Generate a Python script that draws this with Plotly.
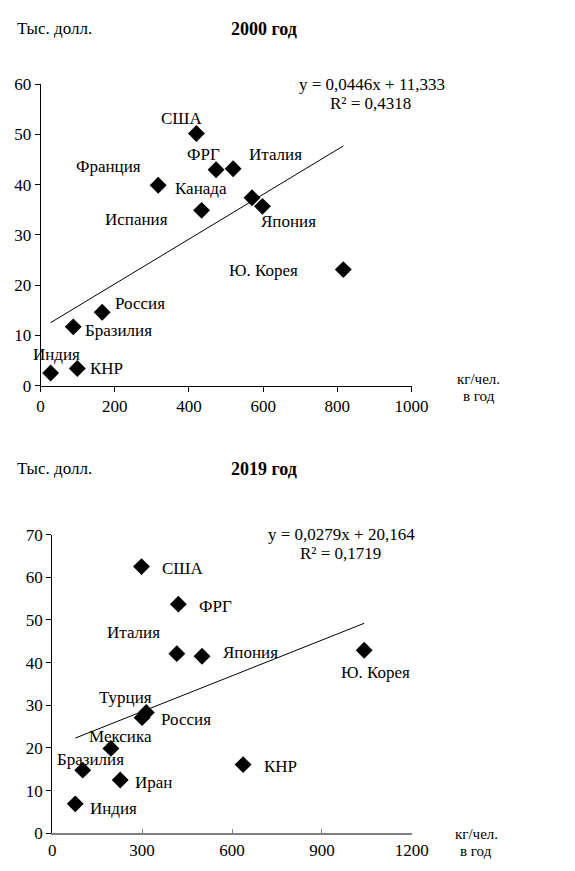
import plotly.graph_objects as go

# ---- 2000 data ----
countries_2000 = ["США", "ФРГ", "Италия", "Франция", "Канада", "Испания", "Япония",
                  "Ю. Корея", "Россия", "Бразилия", "Индия", "КНР"]
steel_2000 = [420, 473, 519, 317, 570, 434, 598, 816, 166, 88, 27, 99]
gdp_2000 = [50.2, 43.0, 43.2, 39.9, 37.4, 34.9, 35.7, 23.1, 14.6, 11.7, 2.5, 3.4]
trend_2000 = [0.0446, 11.333]
eq_2000 = ["y = 0,0446x + 11,333", "R² = 0,4318"]

# ---- 2019 data ----
countries_2019 = ["США", "ФРГ", "Италия", "Япония", "Ю. Корея", "Турция", "Россия",
                  "Мексика", "Бразилия", "Иран", "КНР", "Индия"]
steel_2019 = [298, 421, 416, 500, 1041, 300, 314, 196, 102, 227, 637, 77]
gdp_2019 = [62.5, 53.7, 42.1, 41.5, 42.9, 27.1, 28.3, 19.9, 14.8, 12.5, 16.1, 6.9]
trend_2019 = [0.0279, 20.164]
eq_2019 = ["y = 0,0279x + 20,164", "R² = 0,1719"]

x_ticks_2000 = [0, 200, 400, 600, 800, 1000]
y_ticks_2000 = [0, 10, 20, 30, 40, 50, 60]
x_ticks_2019 = [0, 300, 600, 900, 1200]
y_ticks_2019 = [0, 10, 20, 30, 40, 50, 60, 70]

# label offsets (px, dx right, dy down) - styling only
off_2000 = [(-15, -15), (-13, -15), (42, -14), (-50, -19), (-51, -9), (-65, 9), (26, 15),
            (-80, 1), (38, -9), (45, 4), (6, -19), (29, 0)]
off_2019 = [(41, 2), (37, 2), (-43, -21), (48, -4), (11, 22), (-17, -20), (40, 7),
            (10, -12), (8, -11), (33, 3), (37, 2), (38, 5)]

FONT = "Times New Roman"
FS = 17
W, H = 575, 871

fig = go.Figure()

def add_panel(xs, ys, trend, xa, ya):
    fig.add_trace(go.Scatter(x=xs, y=ys, mode="markers", xaxis=xa, yaxis=ya,
                             marker=dict(symbol="diamond", size=13, color="black"),
                             showlegend=False, hoverinfo="skip"))
    x0, x1 = min(xs), max(xs)
    fig.add_trace(go.Scatter(x=[x0, x1], y=[trend[0] * x0 + trend[1], trend[0] * x1 + trend[1]],
                             mode="lines", xaxis=xa, yaxis=ya,
                             line=dict(color="black", width=1), showlegend=False,
                             hoverinfo="skip"))

add_panel(steel_2000, gdp_2000, trend_2000, "x", "y")
add_panel(steel_2019, gdp_2019, trend_2019, "x2", "y2")

ann = []
for name, x, y, (dx, dy) in zip(countries_2000, steel_2000, gdp_2000, off_2000):
    ann.append(dict(x=x, y=y, xref="x", yref="y", text=name, showarrow=False,
                    xshift=dx, yshift=-dy, font=dict(size=FS)))
for name, x, y, (dx, dy) in zip(countries_2019, steel_2019, gdp_2019, off_2019):
    ann.append(dict(x=x, y=y, xref="x2", yref="y2", text=name, showarrow=False,
                    xshift=dx, yshift=-dy, font=dict(size=FS)))

def paper(px, py):
    return px / W, 1 - py / H

def ptxt(text, px, py, size=FS, bold=False, xanchor="center"):
    x, y = paper(px, py)
    t = f"<b>{text}</b>" if bold else text
    ann.append(dict(x=x, y=y, xref="paper", yref="paper", text=t, showarrow=False,
                    xanchor=xanchor, yanchor="middle", font=dict(size=size)))

ptxt("Тыс. долл.", 11, 20, xanchor="left")
ptxt("2000 год", 270, 20, size=18, bold=True)
ptxt(eq_2000[0], 382, 77)
ptxt(eq_2000[1], 380, 97)
ptxt("кг/чел.", 493, 378, size=15)
ptxt("в год", 493, 396, size=15)

ptxt("Тыс. долл.", 11, 470, xanchor="left")
ptxt("2019 год", 270, 470, size=18, bold=True)
ptxt(eq_2019[0], 350, 537)
ptxt(eq_2019[1], 349, 557)
ptxt("кг/чел.", 490, 843, size=15)
ptxt("в год", 490, 861, size=15)

axis_common = dict(showgrid=False, zeroline=False, showline=True, linecolor="black",
                   linewidth=1, ticks="outside", ticklen=5, tickcolor="black",
                   tickfont=dict(size=FS), fixedrange=True)

fig.update_layout(
    width=W, height=H, margin=dict(l=0, r=0, t=0, b=0),
    paper_bgcolor="white", plot_bgcolor="white",
    font=dict(family=FONT, size=FS, color="black"),
    annotations=ann,
    xaxis=dict(axis_common, domain=[38 / W, 423 / W], range=[0, 1000],
               tickvals=x_ticks_2000, anchor="y"),
    yaxis=dict(axis_common, domain=[1 - 385 / H, 1 - 77 / H], range=[0, 60],
               tickvals=y_ticks_2000, anchor="x"),
    xaxis2=dict(axis_common, domain=[50 / W, 423.3 / W], range=[0, 1200],
                tickvals=x_ticks_2019, anchor="y2", linecolor="#808080", linewidth=2,
                ticks="inside", tickcolor="#808080", ticklen=4),
    yaxis2=dict(axis_common, domain=[1 - 842.7 / H, 1 - 537.3 / H], range=[0, 70],
                tickvals=y_ticks_2019, anchor="x2"),
)

fig.write_html("out.html")
